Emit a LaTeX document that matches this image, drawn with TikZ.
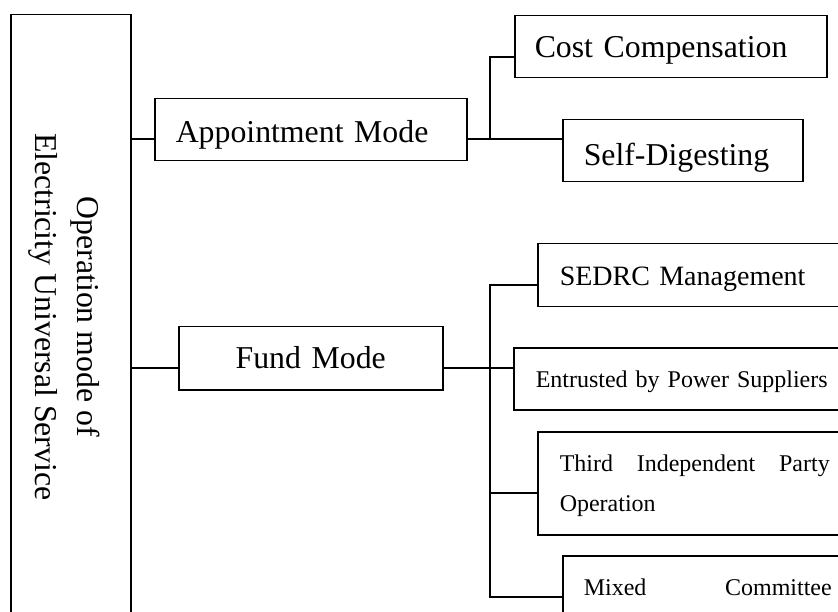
\documentclass[tikz,border=0pt]{standalone}
\usepackage{fontspec}
\usepackage{graphicx}
\setmainfont{Liberation Serif}
\begin{document}
\begin{tikzpicture}[x=1pt,y=1pt,
  box/.style={draw, line width=1.5pt, rectangle, inner ysep=0pt, anchor=north west, align=left, text depth=0pt},
  conn/.style={line width=1.2pt},
  big/.style={font=\fontsize{31.8pt}{38pt}\selectfont},
  mid/.style={font=\fontsize{28pt}{36pt}\selectfont},
  small/.style={font=\fontsize{24pt}{40pt}\selectfont}]
\useasboundingbox (0,0) rectangle (838,-612);
\fill[white] (0,0) rectangle (838,-612);
\clip (0,0) rectangle (838,-612);
% main box
\node[draw, line width=1.5pt, anchor=north west, minimum width=120pt, minimum height=604pt, inner sep=0pt,
      font=\fontsize{31.8pt}{42pt}\selectfont] (main) at (10,-14)
  {\rotatebox{-90}{\begin{tabular}{@{}c@{}}Operation mode of\\Electricity Universal Service\end{tabular}}\hspace*{11pt}};
% second level
\node[box, big, minimum width=312pt, minimum height=62pt, inner xsep=21pt, text width=270pt, text height=26pt] (app) at (154,-98) {Appointment Mode};
\node[box, big, align=center, minimum width=264pt, minimum height=63pt, inner xsep=21pt, text width=222pt, text height=21pt] (fund) at (178,-326) {Fund Mode};
% third level, appointment
\node[box, big, minimum width=312pt, minimum height=62pt, inner xsep=20pt, text width=272pt, text height=22pt] (cost) at (514,-15) {Cost Compensation};
\node[box, big, minimum width=240pt, minimum height=62pt, inner xsep=21pt, text width=198pt, text height=30pt] (self) at (562,-119) {Self-Digesting};
% third level, fund
\node[box, mid, minimum width=313pt, minimum height=63pt, inner xsep=22pt, text width=269pt, text height=21pt] (sedrc) at (537,-243) {SEDRC Management};
\node[box, small, minimum width=337pt, minimum height=62pt, inner xsep=22pt, text width=293pt, text height=18pt] (entr) at (513,-347) {Entrusted by Power Suppliers};
\node[box, small, minimum width=314pt, minimum height=103pt, inner xsep=22pt, text width=270pt, text height=0pt, text depth=23pt] (third) at (537,-431) {Third\hfill Independent\hfill Party\\Operation};
\node[box, small, minimum width=290pt, minimum height=103pt, inner xsep=21pt, text width=248pt, text height=0pt, text depth=23pt] (mixed) at (562,-555) {Mixed\hfill Committee};
% junctions
\coordinate (jA) at (490,-139);
\coordinate (jC) at (490,-57);
\coordinate (jS) at (490,-285);
\coordinate (jF) at (490,-368);
\coordinate (jT) at (490,-493);
\coordinate (jM) at (490,-597);
% connectors
\draw[conn] (main.east |- jA) -- (app.west |- jA);
\draw[conn] (app.east |- jA) -- (self.west |- jA);
\draw[conn] (jA) -- (jC) -- (cost.west |- jC);
\draw[conn] (main.east |- jF) -- (fund.west |- jF);
\draw[conn] (fund.east |- jF) -- (entr.west |- jF);
\draw[conn] (sedrc.west |- jS) -- (jS) -- (jM) -- (mixed.west |- jM);
\draw[conn] (jT) -- (third.west |- jT);
\end{tikzpicture}
\end{document}
